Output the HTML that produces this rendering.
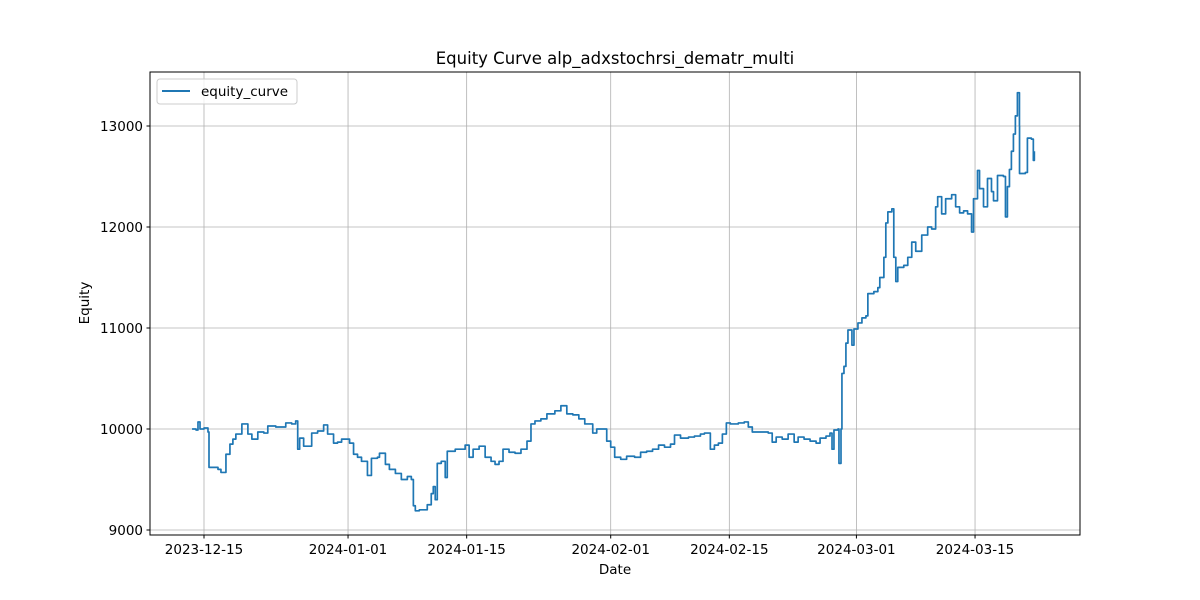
<!DOCTYPE html>
<html><head><meta charset="utf-8"><style>
body{margin:0;background:#fff;}
svg{display:block;font-family:"DejaVu Sans","Liberation Sans",sans-serif;}
</style></head><body>
<svg id="chart" width="1200" height="600" xmlns="http://www.w3.org/2000/svg">
<rect width="1200" height="600" fill="#fff"/>
<text x="615" y="64" font-size="16.5" text-anchor="middle">Equity Curve alp_adxstochrsi_dematr_multi</text>
<g id="grid"></g>
<g id="series"></g>
<rect x="150" y="72" width="930" height="463" fill="none" stroke="#000" stroke-width="1"/>
<g id="ticks"></g>
<text x="615" y="574" font-size="13.5" text-anchor="middle">Date</text>
<text x="89" y="303" font-size="13.5" text-anchor="middle" transform="rotate(-90 89 303)">Equity</text>
<g>
<rect x="157" y="79" width="140" height="25" rx="3" fill="#fff" fill-opacity="0.8" stroke="#ccc"/>
<line x1="162" y1="91" x2="190" y2="91" stroke="#1f77b4" stroke-width="2"/>
<text x="201" y="96" font-size="13.5">equity_curve</text>
</g>
</svg>
<script>
// days since 2023-12-15
const days=[-1.41,-0.94,-0.71,-0.47,0,0.47,0.59,1.65,2.0,2.59,3.06,3.41,3.76,4.47,5.18,5.65,6.35,7.06,7.53,8.47,9.65,10.35,10.82,11.06,11.29,11.76,12.71,13.41,14.12,14.59,15.29,15.76,16.24,17.18,17.65,18.12,18.59,19.29,19.76,20.47,20.71,21.41,21.88,22.59,23.29,24.0,24.47,24.71,24.94,25.41,26.35,26.82,27.06,27.29,27.53,28.0,28.47,28.71,29.65,30.35,30.82,31.29,31.76,32.47,33.18,33.88,34.35,34.82,35.29,36.0,36.71,37.41,38.12,38.59,39.06,39.76,40.47,41.41,42.12,42.82,43.53,44.24,44.94,45.41,45.88,46.35,47.06,47.53,48.0,48.47,49.18,49.88,50.82,51.53,52.24,52.94,53.65,54.35,55.06,55.53,56.24,57.18,57.88,58.59,59.06,59.76,60.24,60.71,61.18,61.65,62.12,63.06,63.76,64.24,64.71,65.41,66.59,67.06,67.53,68.24,68.94,69.65,70.12,70.82,71.53,72.24,72.71,73.41,73.88,74.12,74.35,74.82,74.94,75.18,75.29,75.53,75.76,76.0,76.47,76.71,77.18,77.65,78.12,78.35,79.06,79.53,79.76,80.24,80.47,80.71,81.18,81.41,81.65,81.88,82.59,83.06,83.53,84.0,84.71,85.41,85.88,86.35,86.59,87.06,87.53,88.24,88.71,89.18,89.65,90.12,90.59,90.82,91.29,91.53,92.0,92.47,92.94,93.18,93.65,94.35,94.59,94.82,95.06,95.29,95.53,95.76,96.0,96.24,96.25,96.94,97.18,97.65,97.88,98.0];
const equity=[10000,9990,10070,10000,10010,9970,9620,9600,9570,9750,9850,9900,9950,10050,9950,9900,9970,9960,10030,10020,10060,10050,10080,9800,9910,9830,9960,9980,10040,9950,9860,9870,9900,9860,9750,9720,9680,9540,9710,9720,9760,9650,9600,9560,9500,9530,9500,9240,9190,9200,9250,9360,9430,9300,9660,9680,9520,9780,9800,9800,9840,9720,9800,9830,9720,9680,9650,9680,9800,9770,9760,9800,9880,10050,10080,10100,10150,10180,10230,10150,10140,10100,10050,10050,9960,10000,10000,9880,9820,9720,9700,9730,9720,9770,9780,9800,9840,9820,9850,9940,9910,9920,9930,9950,9960,9800,9840,9860,9950,10060,10050,10060,10070,10020,9970,9970,9960,9870,9920,9900,9950,9870,9920,9900,9880,9860,9910,9930,9960,9800,9990,10000,9660,10000,10550,10620,10850,10980,10830,10990,11050,11100,11120,11340,11360,11400,11500,11700,12040,12150,12180,11700,11460,11600,11620,11700,11850,11760,11920,12000,11980,12200,12300,12130,12280,12320,12200,12140,12160,12130,11950,12280,12560,12380,12200,12480,12350,12260,12510,12500,12100,12400,12570,12750,12920,13100,13330,13000,12530,12540,12880,12870,12660,12750];
const xTickDays=[0,17,31,48,62,77,91];
const xTickLabels=["2023-12-15","2024-01-01","2024-01-15","2024-02-01","2024-02-15","2024-03-01","2024-03-15"];
const yTicks=[9000,10000,11000,12000,13000];

const NS="http://www.w3.org/2000/svg";
const xs=d=>204+d*8.473;
const ys=v=>429-(v-10000)*0.101;
function mk(tag,attrs,parent){const e=document.createElementNS(NS,tag);for(const k in attrs)e.setAttribute(k,attrs[k]);parent.appendChild(e);return e;}
const grid=document.getElementById('grid'),ticks=document.getElementById('ticks'),series=document.getElementById('series');
xTickDays.forEach((d,i)=>{
  const x=xs(d);
  const g=mk('line',{x1:x,x2:x,y1:72,y2:535,stroke:'#b0b0b0','stroke-width':0.8},grid);
  
  
  mk('line',{x1:x,x2:x,y1:535,y2:538.5,stroke:'#000'},ticks);
  const t=mk('text',{x:x,y:554,'font-size':13.5,'text-anchor':'middle'},ticks);
  t.textContent=xTickLabels[i];
  
  
});
yTicks.forEach(v=>{
  const y=ys(v);
  const g=mk('line',{x1:150,x2:1080,y1:y,y2:y,stroke:'#b0b0b0','stroke-width':0.8},grid);
  
  
  mk('line',{x1:146.5,x2:150,y1:y,y2:y,stroke:'#000'},ticks);
  const t=mk('text',{x:143,y:y+5,'font-size':13.5,'text-anchor':'end'},ticks);
  t.textContent=v;
  
  
});
let d='';
days.forEach((dd,i)=>{
  const x=xs(dd),y=ys(equity[i]);
  if(i===0)d+=`M${x},${y}`;else d+=`H${x}V${y}`;
});
const p=mk('path',{d:d,fill:'none',stroke:'#1f77b4','stroke-width':1.7,'stroke-linejoin':'round'},series);


</script>
</body></html>
